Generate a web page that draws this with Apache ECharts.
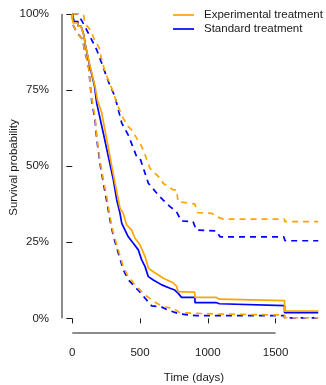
<!DOCTYPE html>
<html><head><meta charset="utf-8">
<script src="https://cdn.jsdelivr.net/npm/echarts@6/dist/echarts.min.js"></script>
<style>html,body{margin:0;padding:0;background:#fff}#c{width:326px;height:385px}</style>
</head><body><div id="c"></div>
<script>
const legendNames = ['Experimental treatment', 'Standard treatment'];
const xTicks = [0, 500, 1000, 1500];
const yTicks = [0, 25, 50, 75, 100];

// Experimental treatment (orange): Kaplan-Meier estimate, upper and lower CI
const expTime = [0,5,5,42,42,64,84,96,130,168,185,217,241,278,315,352,376,401,438,463,500,537,561,598,672,743,770,780,903,905,905,1060,1060,1085,1085,1566,1566,1815];
const expSurv = [100,100,97,97,96,96,93.2,89.9,83.0,76.1,71.7,67.5,61.8,53.1,44.4,36.2,34.5,30.7,29.0,26.3,24.1,20.3,16.5,15.3,13.2,11.7,10.5,8.8,8.6,8.6,6.9,6.9,6.3,6.3,5.8,5.8,2.4,2.4];
const expUpTime = [0,40,84,91,140,162,199,214,241,291,339,376,413,438,475,500,524,573,660,669,745,770,780,903,928,1029,1066,1112,1566,1566,1815];
const expUpSurv = [100,100,99.5,97,94.3,91.6,88.8,85.5,81.0,75.6,69.5,65.7,63.0,61.9,59.2,57.5,55.3,49.3,45.5,44.4,42.2,42.2,38.3,37.6,34.7,34.5,33.4,32.6,32.6,31.8,31.8];
const expLoTime = [0,5,35,77,91,108,121,143,168,180,204,229,254,278,303,339,376,413,475,524,595,669,743,793,1038,1566,1566,1815];
const expLoSurv = [100,96.4,93.7,91.6,87.7,85.0,82.3,72.3,66.0,60.0,52.0,45.5,40.0,33.4,28.0,22.5,17.0,13.7,10.4,8.2,5.7,3.8,3.3,1.9,1.45,1.1,0.2,0.2];

// Standard treatment (blue)
const stdTime = [0,13,13,42,42,64,84,96,128,164,180,229,266,303,328,352,365,389,413,450,487,512,537,561,598,660,721,756,782,806,905,905,1060,1060,1085,1085,1566,1566,1815];
const stdSurv = [100,100,97.5,97.5,96,96,93.2,89.9,83.0,76.3,70.7,60.8,53.1,45.5,38.9,34.5,31.2,29.0,26.8,24.7,22.5,19.2,17.0,13.7,12.6,11.0,9.9,9.3,8.2,6.9,6.9,5.2,5.2,4.8,4.8,4.2,4.2,1.9,1.9];
const stdUpTime = [0,40,81,118,180,217,266,315,365,413,475,500,561,635,669,721,768,804,891,915,1063,1090,1560,1570,1815];
const stdUpSurv = [100,100,96.9,93.7,88.2,83.8,77.8,72.8,64.1,60.2,53.1,52.6,44.4,40.5,38.9,36.7,35.1,32.0,31.8,29.0,28.7,26.8,26.8,25.5,25.5];
const stdLoTime = [0,5,35,77,91,108,121,143,168,180,204,229,254,278,303,339,376,413,485,586,660,719,793,915,1566,1566,1815];
const stdLoSurv = [100,96.4,93.7,91.6,87.7,85.0,82.3,71.5,65.0,59.0,51.0,44.5,38.5,32.4,27.0,21.5,16.0,12.7,9.3,4.1,3.7,2.5,1.45,0.9,0.9,0.15,0.15];

const ORANGE = '#FFA500', BLUE = '#0000FF', INK = '#1a1a1a';
const FONT = 'Liberation Sans, Arial, sans-serif';
const xMin = -76, xMax = 1872, yMin = -4.8, yMax = 103.9;

function pairs(t, s) { return t.map((v, i) => [v, s[i]]); }
function curve(name, t, s, color, dashed, z) {
  return {
    name, type: 'line', data: pairs(t, s), symbol: 'none', showSymbol: false,
    lineStyle: { color, width: 1.7, type: dashed ? [6, 5] : 'solid' },
    itemStyle: { color }, silent: true, z, clip: false
  };
}

const chart = echarts.init(document.getElementById('c'), null, { renderer: 'canvas' });
chart.setOption({
  animation: false,
  backgroundColor: '#fff',
  textStyle: { fontFamily: FONT },
  grid: { left: 62, right: 0, top: 2, bottom: 52, containLabel: false, outerBoundsMode: 'none' },
  legend: {
    data: legendNames, orient: 'vertical', left: 173, top: 8, padding: 0,
    icon: 'rect', itemWidth: 21, itemHeight: 1.7, itemGap: 0,
    textStyle: { fontSize: 11.5, color: INK, fontFamily: FONT, lineHeight: 14, padding: [0, 0, 0, 5] },
    selectedMode: false
  },
  xAxis: {
    type: 'value', min: xMin, max: xMax,
    axisLine: { show: false },
    splitLine: { show: false },
    axisTick: { show: true, customValues: xTicks, length: 5, lineStyle: { color: INK, width: 1 } },
    axisLabel: { customValues: xTicks, margin: 14, fontSize: 11.5, color: INK, fontFamily: FONT, formatter: v => String(v) },
    name: 'Time (days)', nameLocation: 'middle', nameGap: 39, nameMoveOverlap: false,
    nameTextStyle: { fontSize: 11.5, color: INK, fontFamily: FONT }
  },
  yAxis: {
    type: 'value', min: yMin, max: yMax,
    axisLine: { show: false },
    splitLine: { show: false },
    axisTick: { show: true, customValues: yTicks, length: 6, lineStyle: { color: INK, width: 1 } },
    axisLabel: { customValues: yTicks, margin: 13, fontSize: 11.5, color: INK, fontFamily: FONT, formatter: v => v + '%' },
    name: 'Survival probability', nameLocation: 'middle', nameGap: 42, nameRotate: 90, nameMoveOverlap: false,
    nameTextStyle: { fontSize: 11.5, color: INK, fontFamily: FONT }
  },
  series: [
    { name: 'xaxis', type: 'line', data: [[xTicks[0], yMin], [xTicks[xTicks.length - 1], yMin]], symbol: 'none', silent: true, clip: false, lineStyle: { color: INK, width: 1 } },
    { name: 'yaxis', type: 'line', data: [[xMin, yTicks[0]], [xMin, yTicks[yTicks.length - 1]]], symbol: 'none', silent: true, clip: false, lineStyle: { color: INK, width: 1 } },
    curve('std_up', stdUpTime, stdUpSurv, BLUE, true, 3),
    curve('std_lo', stdLoTime, stdLoSurv, BLUE, true, 3),
    curve('exp_up', expUpTime, expUpSurv, ORANGE, true, 4),
    curve('exp_lo', expLoTime, expLoSurv, ORANGE, true, 4),
    curve(legendNames[1], stdTime, stdSurv, BLUE, false, 5),
    curve(legendNames[0], expTime, expSurv, ORANGE, false, 6)
  ]
});
</script></body></html>
